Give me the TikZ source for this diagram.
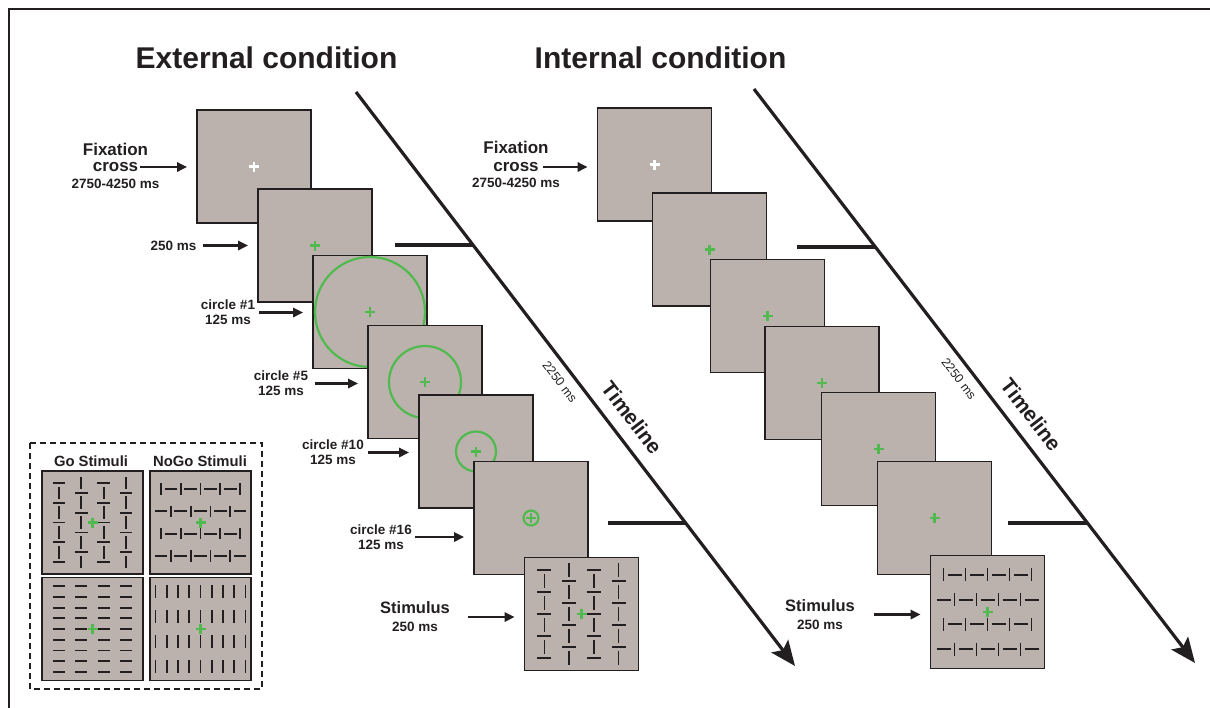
\documentclass[tikz,border=0pt]{standalone}
\usepackage{fontspec}
\setmainfont{Liberation Sans}
\usetikzlibrary{arrows.meta,positioning,calc}

\definecolor{ink}{RGB}{35,31,32}
\definecolor{panel}{RGB}{187,178,173}
\definecolor{fixgreen}{RGB}{80,186,78}

% small fixation cross at a node
\newcommand{\plusmark}[2]{\draw[line width=2.3pt,#2] (#1) ++(-5,0) -- ++(10,0) (#1) ++(0,-5) -- ++(0,10);}

% Go texture: columns of bars, centred on the origin
\newcommand{\gobars}{%
  \foreach \cx in {-37.05,12.35}{
    \foreach \cy in {-44,-22,0,22,44} \draw (\cx-7,\cy) -- (\cx+7,\cy);
    \foreach \cy in {-33,-11,11,33} \draw (\cx,\cy-7) -- (\cx,\cy+7);
  }
  \foreach \cx in {-12.35,37.05}{
    \foreach \cy in {-44,-22,0,22,44} \draw (\cx,\cy-7) -- (\cx,\cy+7);
    \foreach \cy in {-33,-11,11,33} \draw (\cx-7,\cy) -- (\cx+7,\cy);
  }}

% NoGo texture: rows of bars, centred on the origin
\newcommand{\nogobars}{%
  \foreach \cy in {-37.05,12.35}{
    \foreach \cx in {-44,-22,0,22,44} \draw (\cx,\cy-6.5) -- (\cx,\cy+6.5);
    \foreach \cx in {-33,-11,11,33} \draw (\cx-7,\cy) -- (\cx+7,\cy);
  }
  \foreach \cy in {-12.35,37.05}{
    \foreach \cx in {-44,-22,0,22,44} \draw (\cx-7,\cy) -- (\cx+7,\cy);
    \foreach \cx in {-33,-11,11,33} \draw (\cx,\cy-6.5) -- (\cx,\cy+6.5);
  }}

\begin{document}
\begin{tikzpicture}
    [x=1pt,y=-1pt,
     screen/.style={draw=ink,line width=1.6pt,fill=panel,minimum width=114pt,minimum height=113pt,inner sep=0pt},
     minis/.style={screen,minimum width=101pt,minimum height=103pt},
     ring/.style={fixgreen,line width=2.2pt},
     bars/.style={ink,line width=1.8pt},
     pointer/.style={ink,line width=2.6pt,-{Triangle[length=10pt,width=9pt]},shorten >=9pt,shorten <=3pt},
     timeline/.style={ink,line width=3.2pt,-{Stealth[length=25pt,width=21pt,inset=5pt]}},
     tick/.style={ink,line width=3.2pt},
     title/.style={text=ink,font=\fontsize{30}{36}\selectfont\bfseries},
     lab/.style={text=ink,align=center,inner sep=1pt,font=\fontsize{13.5}{15}\selectfont\bfseries},
     labbig/.style={text=ink,inner sep=1pt,font=\fontsize{17}{20}\selectfont\bfseries},
     stimlab/.style={text=ink,align=center,inner sep=1pt,font=\fontsize{16.5}{18}\selectfont\bfseries},
     tlname/.style={text=ink,inner sep=0pt,font=\fontsize{21}{24}\selectfont\bfseries},
     tldur/.style={text=ink,inner sep=0pt,font=\fontsize{12.5}{14}\selectfont}]
    \useasboundingbox (0,0) rectangle (1210,707);
    \draw[ink,line width=2pt] (9,9) rectangle (1240,740);

    \node[title] (tExt) at (266.5,58) {External condition};
    \node[title] (tInt) at (660.5,58) {Internal condition};

    % time axes
    \coordinate (eTop) at (356,92);
    \coordinate (eTip) at (795,666);
    \coordinate (iTop) at (754,89);
    \coordinate (iTip) at (1195,663);
    \draw[timeline] (eTop) -- (eTip)
      node[pos=0.59,sloped,above=12pt,tlname] {Timeline}
      node[pos=0.49,sloped,below=8pt,tldur] {2250 ms};
    \draw[timeline] (iTop) -- (iTip)
      node[pos=0.59,sloped,above=12pt,tlname] {Timeline}
      node[pos=0.49,sloped,below=8pt,tldur] {2250 ms};
    \path (eTop) -- (eTip) coordinate[pos=0.267] (eK1) coordinate[pos=0.751] (eK2);
    \path (iTop) -- (iTip) coordinate[pos=0.275] (iK1) coordinate[pos=0.756] (iK2);
    \coordinate (eS1) at (395,245);
    \coordinate (eS2) at (608,523);
    \coordinate (iS1) at (797,247);
    \coordinate (iS2) at (1008,523);
    \draw[tick] (eS1) -- (eS1 -| eK1);
    \draw[tick] (eS2) -- (eS2 -| eK2);
    \draw[tick] (iS1) -- (iS1 -| iK1);
    \draw[tick] (iS2) -- (iS2 -| iK2);

    % external condition screens
    \node[screen] (e1) at (254,166.5) {};
    \plusmark{e1}{white}
    \node[screen] (e2) at (315,245.5) {};
    \plusmark{e2}{fixgreen}
    \foreach \name/\cx/\cy/\rad in {e3/370/312/55, e4/425/382/36, e5/476/451.5/20, e6/531/518/7.5}{
      \node[screen] (\name) at (\cx,\cy) {};
      \draw[ring] (\name) circle[radius=\rad];
      \plusmark{\name}{fixgreen}
    }
    \node[screen] (e7) at (581.5,614) {};
    \begin{scope}[shift={(e7)},bars] \gobars \end{scope}
    \plusmark{e7}{fixgreen}

    % internal condition screens
    \node[screen] (i1) at (654.5,164.5) {};
    \plusmark{i1}{white}
    \foreach \name/\cx/\cy in {i2/709.5/249.5, i3/767.5/316, i4/822/383, i5/878.5/449, i6/934.5/518}{
      \node[screen] (\name) at (\cx,\cy) {};
      \plusmark{\name}{fixgreen}
    }
    \node[screen] (i7) at (987.5,612) {};
    \begin{scope}[shift={(i7)},bars] \nogobars \end{scope}
    \plusmark{i7}{fixgreen}

    % external labels
    \node[labbig] (eFix) at (115.5,149) {Fixation};
    \node[labbig] (eCross) at (115.5,167) {cross};
    \node[lab] (eDur) at (115.5,184) {2750-4250 ms};
    \node[lab] (l250) at (173.5,245.5) {250 ms};
    \node[lab] (c1) at (228,312.5) {circle \#1\\125 ms};
    \node[lab] (c5) at (281,383.5) {circle \#5\\125 ms};
    \node[lab] (c10) at (333,452.5) {circle \#10\\125 ms};
    \node[lab] (c16) at (381,537) {circle \#16\\125 ms};
    \node[stimlab] (eStim) at (415,617) {Stimulus\\{\fontsize{13.5}{18}\selectfont 250 ms}};
    \draw[pointer,shorten <=1pt] (eCross.east) -- (eCross.east -| e1.west);
    \draw[pointer,shorten <=5pt] (l250.east) -- (l250.east -| e2.west);
    \draw[pointer] (c1.east) -- (c1.east -| e3.west);
    \draw[pointer,shorten <=6pt] (c5.east) -- (c5.east -| e4.west);
    \draw[pointer] (c10.east) -- (c10.east -| e5.west);
    \draw[pointer,shorten <=2pt] (c16.east) -- (c16.east -| e6.west);
    \draw[pointer,shorten <=17pt] (eStim.east) -- (eStim.east -| e7.west);

    % internal labels
    \node[labbig] (iFix) at (516,147) {Fixation};
    \node[labbig] (iCross) at (516,167) {cross};
    \node[lab] (iDur) at (516,183) {2750-4250 ms};
    \node[stimlab] (iStim) at (820,614.5) {Stimulus\\{\fontsize{13.5}{18}\selectfont 250 ms}};
    \draw[pointer] (iCross.east) -- (iCross.east -| i1.west);
    \draw[pointer,shorten <=18pt] (iStim.east) -- (iStim.east -| i7.west);

    % legend of stimulus textures
    \draw[ink,line width=1.8pt,dash pattern=on 6pt off 4pt] (30,443) rectangle (262,689);
    \node[lab,font=\fontsize{14.8}{17}\selectfont\bfseries] (goHead) at (91,461) {Go Stimuli};
    \node[lab,font=\fontsize{14.8}{17}\selectfont\bfseries] (nogoHead) at (200,461) {NoGo Stimuli};
    \node[minis] (g1) at (92.5,522.5) {};
    \node[minis] (g2) at (200.5,522.5) {};
    \node[minis] (g3) at (92.5,629) {};
    \node[minis] (g4) at (200.5,629) {};
    \begin{scope}[shift={(g1)},scale=0.9,bars] \gobars \end{scope}
    \begin{scope}[shift={(g2)},scale=0.9,bars] \nogobars \end{scope}
    \begin{scope}[shift={(g3)},bars]
      \foreach \cx in {-33.4,-11.1,11.1,33.4}
        \foreach \k in {-4,...,4} \draw (\cx-6,\k*10.7) -- (\cx+6,\k*10.7);
    \end{scope}
    \begin{scope}[shift={(g4)},bars]
      \foreach \k in {-4,...,4}
        \foreach \cy in {-37.5,-12.5,12.5,37.5} \draw (\k*11.25,\cy-6.5) -- (\k*11.25,\cy+6.5);
    \end{scope}
    \foreach \g in {g1,g2,g3,g4} \plusmark{\g}{fixgreen};
\end{tikzpicture}
\end{document}
